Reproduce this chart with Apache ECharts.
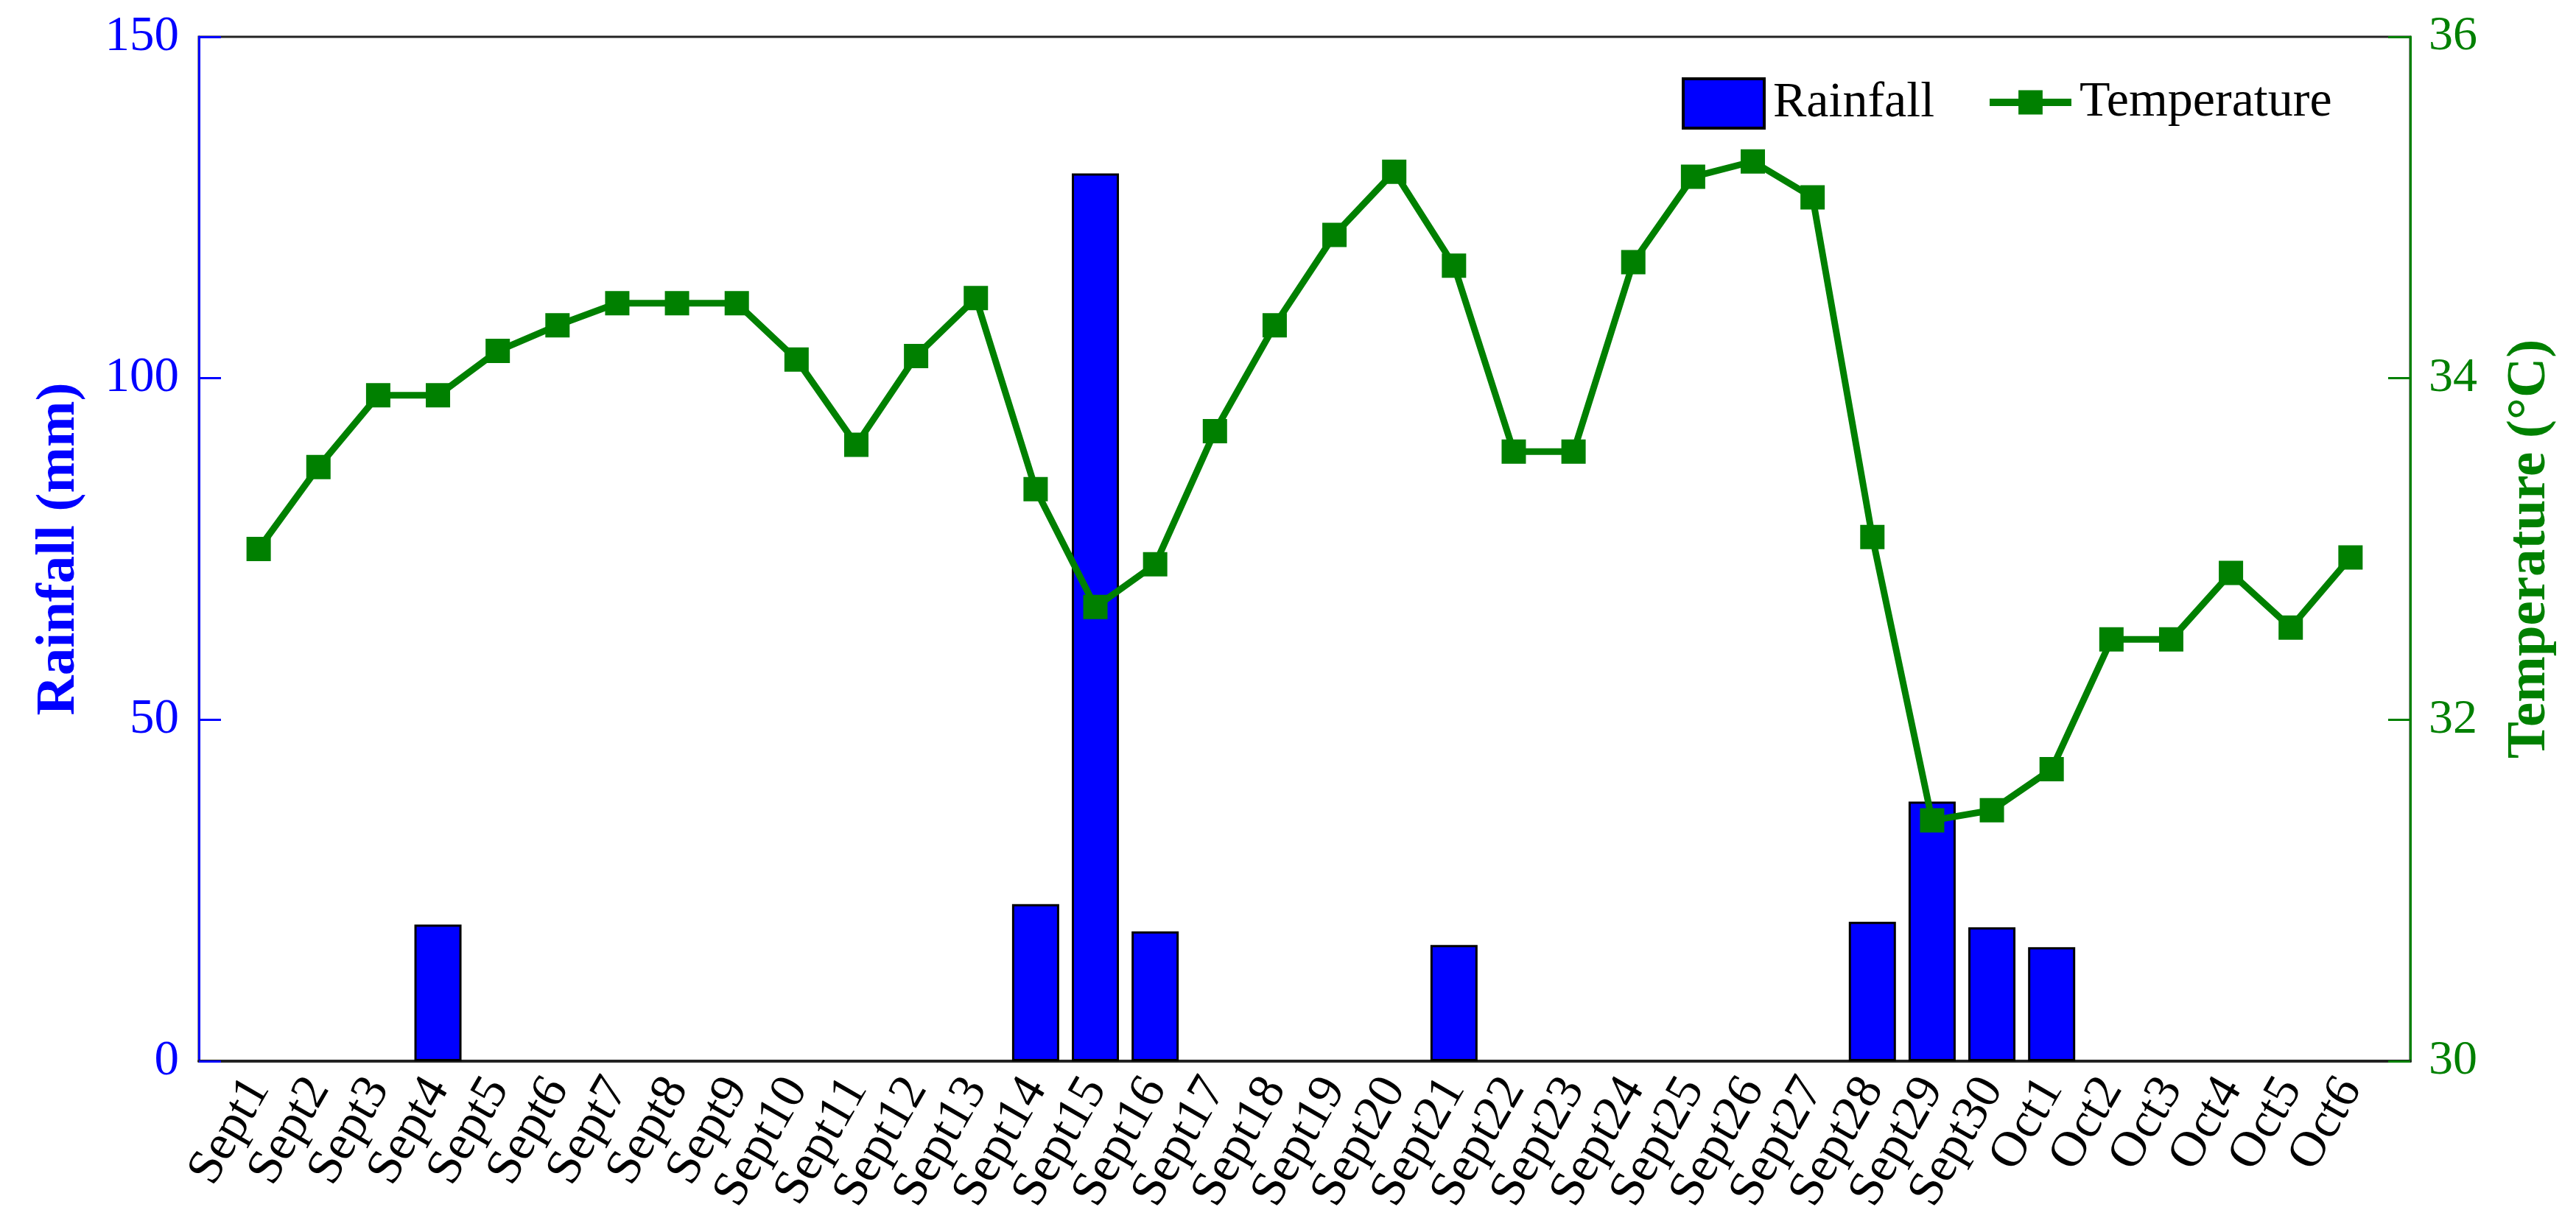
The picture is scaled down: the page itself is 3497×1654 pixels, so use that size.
<!DOCTYPE html>
<html>
<head>
<meta charset="utf-8">
<script src="https://cdn.jsdelivr.net/npm/echarts@6/dist/echarts.min.js"></script>
<style>
html,body{margin:0;padding:0;background:#fff;}
#chart{width:3497px;height:1654px;}
</style>
</head>
<body>
<div id="chart"></div>
<script>
const categories = ['Sept1','Sept2','Sept3','Sept4','Sept5','Sept6','Sept7','Sept8','Sept9','Sept10',
  'Sept11','Sept12','Sept13','Sept14','Sept15','Sept16','Sept17','Sept18','Sept19','Sept20',
  'Sept21','Sept22','Sept23','Sept24','Sept25','Sept26','Sept27','Sept28','Sept29','Sept30',
  'Oct1','Oct2','Oct3','Oct4','Oct5','Oct6'];
const rainfall = [0,0,0,20,0,0,0,0,0,0,
  0,0,0,23,130,19,0,0,0,0,
  17,0,0,0,0,0,0,20.4,38,19.6,
  16.7,0,0,0,0,0];
const temperature = [33.00,33.48,33.90,33.90,34.16,34.31,34.44,34.44,34.44,34.11,
  33.61,34.13,34.47,33.35,32.66,32.91,33.69,34.31,34.84,35.21,
  34.66,33.57,33.57,34.68,35.18,35.27,35.06,33.07,31.41,31.47,
  31.71,32.47,32.47,32.86,32.54,32.95];
const rainTicks = {min: 0, max: 150, interval: 50};
const tempTicks = {min: 30, max: 36, interval: 2};

const FONT = "'Liberation Serif', 'Times New Roman', serif";
const BLUE = '#0000FF';
const GREEN = '#008000';

const xData = [''].concat(categories, ['']);
const rainData = [null].concat(rainfall.map(v => v > 0 ? v : null), [null]);
const tempData = [null].concat(temperature, [null]);

const legendText = {fontFamily: FONT, fontSize: 68, lineHeight: 67, color: '#000'};

const chart = echarts.init(document.getElementById('chart'), null, {renderer: 'canvas'});
chart.setOption({
  animation: false,
  backgroundColor: '#fff',
  grid: {left: 270, right: 225, top: 50, bottom: 213, show: true, borderColor: '#222', borderWidth: 3, backgroundColor: 'transparent'},
  legend: [
    {data: [{name: 'Rainfall', icon: 'rect'}], left: 2283, top: 105, padding: 0, itemWidth: 110, itemHeight: 67,
     itemStyle: {borderColor: '#000', borderWidth: 4},
     textStyle: Object.assign({}, legendText, {padding: [0, 0, 0, 7]})},
    {data: ['Temperature'], left: 2696, top: 105, padding: 0, itemWidth: 111, itemHeight: 41,
     lineStyle: {width: 10, color: GREEN},
     textStyle: Object.assign({}, legendText, {padding: [0, 0, 0, 6]})}
  ],
  xAxis: {
    type: 'category', data: xData, boundaryGap: false,
    axisLine: {show: true, lineStyle: {color: '#222', width: 4}},
    axisTick: {show: false},
    splitLine: {show: false},
    axisLabel: {interval: 0, rotate: 60, margin: 28, fontFamily: FONT, fontSize: 68, color: '#000'}
  },
  yAxis: [
    {type: 'value', position: 'left', min: rainTicks.min, max: rainTicks.max, interval: rainTicks.interval,
     name: 'Rainfall (mm)', nameLocation: 'middle', nameRotate: 90, nameGap: 152,
     nameTextStyle: {fontFamily: FONT, fontSize: 75, fontWeight: 'bold', color: BLUE},
     axisLine: {show: true, lineStyle: {color: BLUE, width: 3}},
     axisTick: {show: true, inside: true, length: 30, lineStyle: {color: BLUE, width: 3}},
     splitLine: {show: false},
     axisLabel: {margin: 27, fontFamily: FONT, fontSize: 67, color: BLUE}},
    {type: 'value', position: 'right', min: tempTicks.min, max: tempTicks.max, interval: tempTicks.interval,
     name: 'Temperature (°C)', nameLocation: 'middle', nameRotate: 90, nameGap: 125,
     nameTextStyle: {fontFamily: FONT, fontSize: 75, fontWeight: 'bold', color: GREEN},
     axisLine: {show: true, lineStyle: {color: GREEN, width: 3}},
     axisTick: {show: true, inside: true, length: 30, lineStyle: {color: GREEN, width: 3}},
     splitLine: {show: false},
     axisLabel: {margin: 25, fontFamily: FONT, fontSize: 66, color: GREEN}}
  ],
  series: [
    {name: 'Rainfall', type: 'bar', yAxisIndex: 0, data: rainData, barWidth: 64,
     itemStyle: {color: BLUE, borderColor: '#000', borderWidth: 3}},
    {name: 'Temperature', type: 'line', yAxisIndex: 1, data: tempData,
     symbol: 'rect', symbolSize: 33, showSymbol: true,
     lineStyle: {color: GREEN, width: 9}, itemStyle: {color: GREEN}, z: 3}
  ]
});
</script>
</body>
</html>
